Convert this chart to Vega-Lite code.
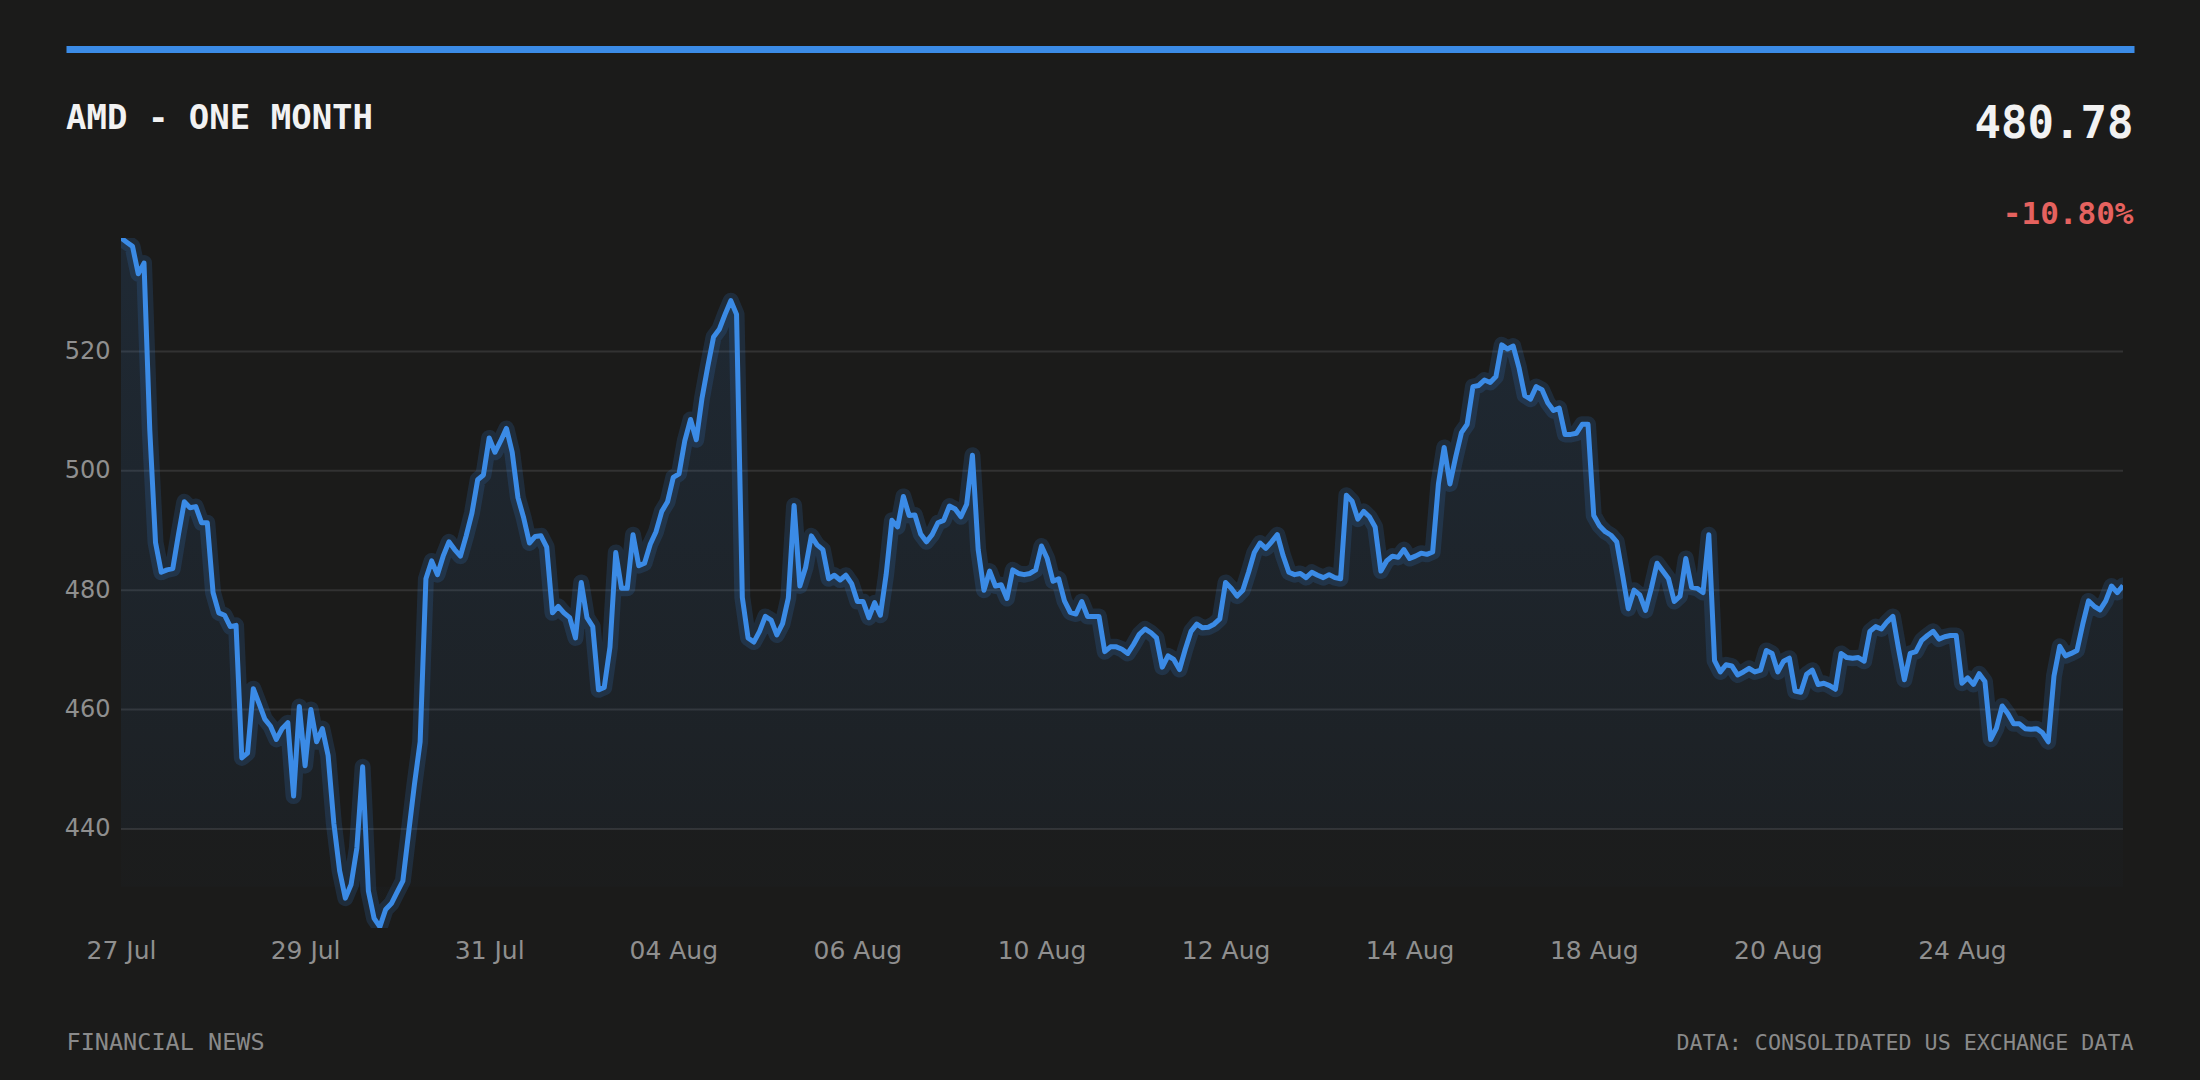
{
  "$schema": "https://vega.github.io/schema/vega-lite/v6.json",
  "description": "AMD one month intraday price, dark theme",
  "autosize": "none",
  "width": 2002,
  "height": 690,
  "padding": {"left": 121, "top": 238, "right": 77, "bottom": 152},
  "background": "#1b1b1a",
  "config": {"view": {"stroke": null}},
  "title": {
    "text": "AMD - ONE MONTH",
    "anchor": "start",
    "frame": "group",
    "baseline": "alphabetic",
    "offset": 0,
    "dx": -55,
    "dy": 114,
    "font": "DejaVu Sans Mono",
    "fontWeight": "bold",
    "fontSize": 34,
    "color": "#f2f2f2"
  },
  "datasets": {
    "grid": [{"g": 440}, {"g": 460}, {"g": 480}, {"g": 500}, {"g": 520}]
  },
  "data": {"values": [
    {"i":0,"p":539.0},{"i":1,"p":538.3},{"i":2,"p":537.6},{"i":3,"p":533.0},{"i":4,"p":534.8},{"i":5,"p":506.9},{"i":6,"p":488.0},{"i":7,"p":483.0},
    {"i":8,"p":483.4},{"i":9,"p":483.6},{"i":10,"p":489.4},{"i":11,"p":494.8},{"i":12,"p":493.8},{"i":13,"p":494.0},{"i":14,"p":491.3},{"i":15,"p":491.3},
    {"i":16,"p":479.6},{"i":17,"p":476.2},{"i":18,"p":475.8},{"i":19,"p":473.9},{"i":20,"p":474.1},{"i":21,"p":451.9},{"i":22,"p":452.7},{"i":23,"p":463.5},
    {"i":24,"p":461.0},{"i":25,"p":458.4},{"i":26,"p":457.2},{"i":27,"p":455.0},{"i":28,"p":456.8},{"i":29,"p":457.8},{"i":30,"p":445.5},{"i":31,"p":460.5},
    {"i":32,"p":450.6},{"i":33,"p":460.0},{"i":34,"p":454.6},{"i":35,"p":456.8},{"i":36,"p":452.3},{"i":37,"p":440.9},{"i":38,"p":433.0},{"i":39,"p":428.4},
    {"i":40,"p":430.7},{"i":41,"p":436.8},{"i":42,"p":450.4},{"i":43,"p":429.6},{"i":44,"p":425.0},{"i":45,"p":423.6},{"i":46,"p":426.5},{"i":47,"p":427.5},
    {"i":48,"p":429.4},{"i":49,"p":431.3},{"i":50,"p":439.4},{"i":51,"p":447.4},{"i":52,"p":454.6},{"i":53,"p":481.9},{"i":54,"p":484.9},{"i":55,"p":482.6},
    {"i":56,"p":485.7},{"i":57,"p":488.1},{"i":58,"p":486.8},{"i":59,"p":485.7},{"i":60,"p":489.1},{"i":61,"p":492.9},{"i":62,"p":498.5},{"i":63,"p":499.3},
    {"i":64,"p":505.5},{"i":65,"p":503.1},{"i":66,"p":505.0},{"i":67,"p":507.1},{"i":68,"p":503.1},{"i":69,"p":495.5},{"i":70,"p":492.1},{"i":71,"p":487.9},
    {"i":72,"p":489.0},{"i":73,"p":489.1},{"i":74,"p":487.2},{"i":75,"p":476.2},{"i":76,"p":477.3},{"i":77,"p":476.2},{"i":78,"p":475.4},{"i":79,"p":472.0},
    {"i":80,"p":481.3},{"i":81,"p":475.4},{"i":82,"p":473.9},{"i":83,"p":463.3},{"i":84,"p":463.7},{"i":85,"p":470.5},{"i":86,"p":486.3},{"i":87,"p":480.3},
    {"i":88,"p":480.3},{"i":89,"p":489.3},{"i":90,"p":484.1},{"i":91,"p":484.5},{"i":92,"p":487.7},{"i":93,"p":489.8},{"i":94,"p":493.2},{"i":95,"p":494.8},
    {"i":96,"p":498.9},{"i":97,"p":499.5},{"i":98,"p":505.0},{"i":99,"p":508.6},{"i":100,"p":505.2},{"i":101,"p":512.2},{"i":102,"p":517.5},{"i":103,"p":522.4},
    {"i":104,"p":523.7},{"i":105,"p":526.2},{"i":106,"p":528.5},{"i":107,"p":526.2},{"i":108,"p":478.8},{"i":109,"p":472.0},{"i":110,"p":471.3},{"i":111,"p":473.1},
    {"i":112,"p":475.6},{"i":113,"p":475.0},{"i":114,"p":472.5},{"i":115,"p":474.4},{"i":116,"p":478.7},{"i":117,"p":494.2},{"i":118,"p":480.7},{"i":119,"p":483.8},
    {"i":120,"p":489.1},{"i":121,"p":487.6},{"i":122,"p":486.8},{"i":123,"p":481.9},{"i":124,"p":482.5},{"i":125,"p":481.7},{"i":126,"p":482.5},{"i":127,"p":481.1},
    {"i":128,"p":478.1},{"i":129,"p":478.1},{"i":130,"p":475.4},{"i":131,"p":477.9},{"i":132,"p":475.8},{"i":133,"p":482.6},{"i":134,"p":491.7},{"i":135,"p":490.6},
    {"i":136,"p":495.7},{"i":137,"p":492.5},{"i":138,"p":492.6},{"i":139,"p":489.4},{"i":140,"p":488.1},{"i":141,"p":489.3},{"i":142,"p":491.3},{"i":143,"p":491.7},
    {"i":144,"p":494.1},{"i":145,"p":493.6},{"i":146,"p":492.3},{"i":147,"p":494.4},{"i":148,"p":502.6},{"i":149,"p":486.8},{"i":150,"p":480.0},{"i":151,"p":483.2},
    {"i":152,"p":480.7},{"i":153,"p":480.9},{"i":154,"p":478.6},{"i":155,"p":483.4},{"i":156,"p":482.8},{"i":157,"p":482.6},{"i":158,"p":482.8},{"i":159,"p":483.4},
    {"i":160,"p":487.4},{"i":161,"p":485.3},{"i":162,"p":481.5},{"i":163,"p":481.9},{"i":164,"p":478.2},{"i":165,"p":476.3},{"i":166,"p":476.0},{"i":167,"p":478.1},
    {"i":168,"p":475.6},{"i":169,"p":475.6},{"i":170,"p":475.6},{"i":171,"p":469.7},{"i":172,"p":470.5},{"i":173,"p":470.5},{"i":174,"p":470.1},{"i":175,"p":469.4},
    {"i":176,"p":470.9},{"i":177,"p":472.6},{"i":178,"p":473.5},{"i":179,"p":472.9},{"i":180,"p":472.0},{"i":181,"p":467.1},{"i":182,"p":469.0},{"i":183,"p":468.4},
    {"i":184,"p":466.7},{"i":185,"p":470.1},{"i":186,"p":473.1},{"i":187,"p":474.3},{"i":188,"p":473.7},{"i":189,"p":473.8},{"i":190,"p":474.3},{"i":191,"p":475.2},
    {"i":192,"p":481.3},{"i":193,"p":480.3},{"i":194,"p":479.0},{"i":195,"p":480.0},{"i":196,"p":483.0},{"i":197,"p":486.3},{"i":198,"p":487.9},{"i":199,"p":487.0},
    {"i":200,"p":488.1},{"i":201,"p":489.3},{"i":202,"p":485.8},{"i":203,"p":483.0},{"i":204,"p":482.6},{"i":205,"p":482.8},{"i":206,"p":482.1},{"i":207,"p":483.0},
    {"i":208,"p":482.5},{"i":209,"p":482.1},{"i":210,"p":482.6},{"i":211,"p":482.1},{"i":212,"p":481.9},{"i":213,"p":495.9},{"i":214,"p":494.9},{"i":215,"p":491.9},
    {"i":216,"p":493.2},{"i":217,"p":492.3},{"i":218,"p":490.6},{"i":219,"p":483.2},{"i":220,"p":484.9},{"i":221,"p":485.7},{"i":222,"p":485.5},{"i":223,"p":486.8},
    {"i":224,"p":485.3},{"i":225,"p":485.7},{"i":226,"p":486.2},{"i":227,"p":486.0},{"i":228,"p":486.4},{"i":229,"p":497.8},{"i":230,"p":503.9},{"i":231,"p":497.8},
    {"i":232,"p":502.3},{"i":233,"p":506.4},{"i":234,"p":507.8},{"i":235,"p":514.1},{"i":236,"p":514.3},{"i":237,"p":515.2},{"i":238,"p":514.8},{"i":239,"p":515.8},
    {"i":240,"p":521.1},{"i":241,"p":520.4},{"i":242,"p":520.9},{"i":243,"p":517.3},{"i":244,"p":512.6},{"i":245,"p":512.0},{"i":246,"p":514.1},{"i":247,"p":513.6},
    {"i":248,"p":511.4},{"i":249,"p":510.1},{"i":250,"p":510.5},{"i":251,"p":506.1},{"i":252,"p":506.1},{"i":253,"p":506.3},{"i":254,"p":507.8},{"i":255,"p":507.8},
    {"i":256,"p":492.5},{"i":257,"p":490.8},{"i":258,"p":489.8},{"i":259,"p":489.2},{"i":260,"p":488.1},{"i":261,"p":482.6},{"i":262,"p":476.9},{"i":263,"p":480.0},
    {"i":264,"p":479.2},{"i":265,"p":476.6},{"i":266,"p":480.3},{"i":267,"p":484.5},{"i":268,"p":483.2},{"i":269,"p":481.9},{"i":270,"p":478.1},{"i":271,"p":479.0},
    {"i":272,"p":485.3},{"i":273,"p":480.5},{"i":274,"p":480.3},{"i":275,"p":479.6},{"i":276,"p":489.3},{"i":277,"p":468.2},{"i":278,"p":466.3},{"i":279,"p":467.5},
    {"i":280,"p":467.3},{"i":281,"p":465.8},{"i":282,"p":466.3},{"i":283,"p":466.9},{"i":284,"p":466.3},{"i":285,"p":466.6},{"i":286,"p":469.9},{"i":287,"p":469.4},
    {"i":288,"p":466.3},{"i":289,"p":468.1},{"i":290,"p":468.6},{"i":291,"p":463.1},{"i":292,"p":462.9},{"i":293,"p":465.9},{"i":294,"p":466.6},{"i":295,"p":464.2},
    {"i":296,"p":464.4},{"i":297,"p":464.0},{"i":298,"p":463.4},{"i":299,"p":469.4},{"i":300,"p":468.7},{"i":301,"p":468.6},{"i":302,"p":468.7},{"i":303,"p":468.1},
    {"i":304,"p":473.1},{"i":305,"p":473.9},{"i":306,"p":473.5},{"i":307,"p":474.7},{"i":308,"p":475.6},{"i":309,"p":470.1},{"i":310,"p":465.0},{"i":311,"p":469.4},
    {"i":312,"p":469.7},{"i":313,"p":471.6},{"i":314,"p":472.4},{"i":315,"p":473.1},{"i":316,"p":471.8},{"i":317,"p":472.2},{"i":318,"p":472.4},{"i":319,"p":472.4},
    {"i":320,"p":464.4},{"i":321,"p":465.3},{"i":322,"p":464.2},{"i":323,"p":466.0},{"i":324,"p":464.7},{"i":325,"p":455.0},{"i":326,"p":456.9},{"i":327,"p":460.6},
    {"i":328,"p":459.3},{"i":329,"p":457.6},{"i":330,"p":457.6},{"i":331,"p":456.8},{"i":332,"p":456.7},{"i":333,"p":456.8},{"i":334,"p":456.1},{"i":335,"p":454.6},
    {"i":336,"p":465.6},{"i":337,"p":470.6},{"i":338,"p":469.0},{"i":339,"p":469.4},{"i":340,"p":469.9},{"i":341,"p":474.3},{"i":342,"p":478.2},{"i":343,"p":477.3},
    {"i":344,"p":476.7},{"i":345,"p":478.2},{"i":346,"p":480.7},{"i":347,"p":479.6},{"i":348,"p":480.78}
  ]},
  "layer": [
    {
      "data": {"name": "grid"},
      "mark": {"type": "rule", "color": "#323232", "strokeWidth": 2},
      "encoding": {
        "y": {"field": "g", "type": "quantitative", "axis": null}
      }
    },
    {
      "mark": {
        "type": "area",
        "clip": true,
        "color": {
          "gradient": "linear",
          "x1": 0, "y1": 0, "x2": 0, "y2": 1,
          "stops": [
            {"offset": 0, "color": "rgba(59,139,230,0.13)"},
            {"offset": 0.857, "color": "rgba(59,139,230,0.05)"},
            {"offset": 0.858, "color": "rgba(59,139,230,0.015)"},
            {"offset": 1, "color": "rgba(59,139,230,0.01)"}
          ]
        }
      },
      "encoding": {
        "x": {
          "field": "i", "type": "quantitative",
          "scale": {"domain": [-9.56, 349.91], "range": [-55, 2013], "nice": false, "zero": false},
          "axis": {
            "orient": "bottom",
            "values": [0, 32, 64, 96, 128, 160, 192, 224, 256, 288, 320],
            "labelExpr": "['27 Jul','29 Jul','31 Jul','04 Aug','06 Aug','10 Aug','12 Aug','14 Aug','18 Aug','20 Aug','24 Aug'][round(datum.value / 32)]",
            "grid": false, "domain": false, "ticks": false, "tickSize": 0,
            "labelPadding": 10, "labelFlush": false, "labelOverlap": false,
            "labelFont": "DejaVu Sans", "labelFontSize": 25, "labelColor": "#8f8f8f",
            "title": "FINANCIAL NEWS",
            "titleX": -55, "titleY": 121, "titleAlign": "left", "titleBaseline": "alphabetic",
            "titleFont": "DejaVu Sans Mono", "titleFontSize": 23.5, "titleFontWeight": "normal", "titleColor": "#8a8a8a"
          }
        },
        "y": {
          "field": "p", "type": "quantitative",
          "scale": {"domain": [423.4, 539.0], "nice": false, "zero": false},
          "axis": {
            "orient": "left",
            "values": [440, 460, 480, 500, 520],
            "grid": false,
            "domain": false, "ticks": false, "tickSize": 0, "labelPadding": 11,
            "labelFont": "DejaVu Sans", "labelFontSize": 24, "labelColor": "#8f8f8f",
            "title": "DATA: CONSOLIDATED US EXCHANGE DATA",
            "titleX": 2012, "titleY": 811, "titleAngle": 0, "titleAlign": "right", "titleBaseline": "alphabetic",
            "titleFont": "DejaVu Sans Mono", "titleFontSize": 21.7, "titleFontWeight": "normal", "titleColor": "#8a8a8a"
          }
        },
        "y2": {"datum": 430.3}
      }
    },
    {
      "mark": {"type": "line", "clip": true, "color": "#3b8be6", "strokeWidth": 16, "opacity": 0.16, "strokeJoin": "round", "strokeCap": "round"},
      "encoding": {
        "x": {"field": "i", "type": "quantitative", "axis": null},
        "y": {"field": "p", "type": "quantitative", "axis": null}
      }
    },
    {
      "mark": {"type": "line", "clip": true, "color": "#3b8be6", "strokeWidth": 5, "strokeJoin": "round"},
      "encoding": {
        "x": {
          "field": "i", "type": "quantitative",
          "axis": {
            "orient": "top", "offset": 189,
            "labels": false, "ticks": false, "grid": false,
            "domain": true, "domainColor": "#3b8be6", "domainWidth": 7,
            "title": "-10.80%",
            "titleX": 2012, "titleY": 174, "titleAlign": "right", "titleBaseline": "alphabetic", "titleAngle": 0,
            "titleFont": "DejaVu Sans Mono", "titleFontSize": 31, "titleFontWeight": "bold", "titleColor": "#e5625f"
          }
        },
        "y": {
          "field": "p", "type": "quantitative",
          "axis": {
            "orient": "right",
            "labels": false, "ticks": false, "grid": false, "domain": false,
            "title": "480.78",
            "titleX": 10, "titleY": -101, "titleAngle": 0, "titleAlign": "right", "titleBaseline": "alphabetic",
            "titleFont": "DejaVu Sans Mono", "titleFontSize": 44, "titleFontWeight": "bold", "titleColor": "#f2f2f2"
          }
        }
      }
    }
  ],
  "resolve": {"axis": {"x": "independent", "y": "independent"}}
}
